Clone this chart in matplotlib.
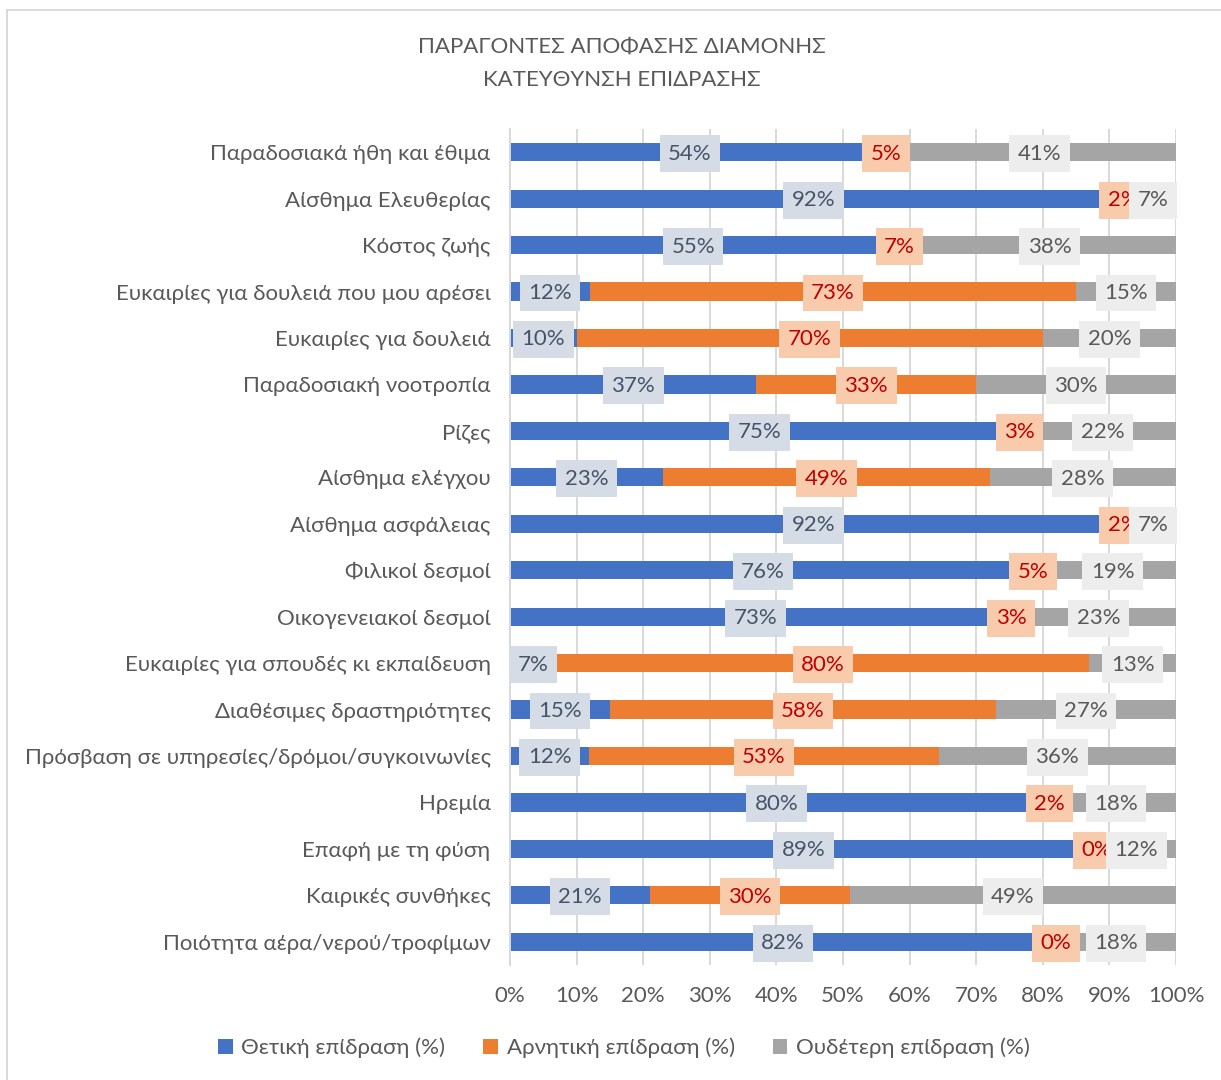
import matplotlib
matplotlib.use("Agg")
import matplotlib.pyplot as plt
from matplotlib.patches import Patch, Rectangle
import numpy as np

plt.rcParams['font.family'] = ['Lato', 'Noto Sans', 'DejaVu Sans']

categories = [
    "Παραδοσιακά ήθη και έθιμα",
    "Αίσθημα Ελευθερίας",
    "Κόστος ζωής",
    "Ευκαιρίες για δουλειά που μου αρέσει",
    "Ευκαιρίες για δουλειά",
    "Παραδοσιακή νοοτροπία",
    "Ρίζες",
    "Αίσθημα ελέγχου",
    "Αίσθημα ασφάλειας",
    "Φιλικοί δεσμοί",
    "Οικογενειακοί δεσμοί",
    "Ευκαιρίες για σπουδές κι εκπαίδευση",
    "Διαθέσιμες δραστηριότητες",
    "Πρόσβαση σε υπηρεσίες/δρόμοι/συγκοινωνίες",
    "Ηρεμία",
    "Επαφή με τη φύση",
    "Καιρικές συνθήκες",
    "Ποιότητα αέρα/νερού/τροφίμων",
]
positive = [54, 92, 55, 12, 10, 37, 75, 23, 92, 76, 73, 7, 15, 12, 80, 89, 21, 82]
negative = [5, 2, 7, 73, 70, 33, 3, 49, 2, 5, 3, 80, 58, 53, 2, 0, 30, 0]
neutral = [41, 7, 38, 15, 20, 30, 22, 28, 7, 19, 23, 13, 27, 36, 18, 12, 49, 18]
series_names = ["Θετική επίδραση (%)", "Αρνητική επίδραση (%)", "Ουδέτερη επίδραση (%)"]
tick_labels = [f"{v}%" for v in range(0, 101, 10)]

bar_colors = ["#4472C4", "#ED7D31", "#A5A5A5"]
box_colors = ["#D6DCE5", "#F8CBAD", "#EDEDED"]
label_colors = ["#44546A", "#C00000", "#595959"]
text_gray = "#595959"
grid_gray = "#D9D9D9"
fs = 16

fig = plt.figure(figsize=(12.21, 10.80), dpi=100)
fig.patches.append(Rectangle((7 / 1221, -0.1), 1.2, 1.1 - 10 / 1080,
                             transform=fig.transFigure, fill=False,
                             edgecolor=grid_gray, linewidth=1.4))

ax = fig.add_axes([510 / 1221, 1 - 965 / 1080, 666 / 1221, 836 / 1080])

data = np.array([positive, negative, neutral], dtype=float)
shares = data / data.sum(axis=0) * 100
y = np.arange(len(categories))
left = np.zeros(len(categories))
for k in range(3):
    ax.barh(y, shares[k], left=left, height=0.39, color=bar_colors[k], zorder=2)
    for i in range(len(categories)):
        ax.text(left[i] + shares[k][i] / 2, y[i] + 0.03, f"{int(data[k][i])}%",
                ha="center", va="center", fontsize=16, color=label_colors[k],
                zorder=5 + k,
                bbox=dict(boxstyle="square,pad=0.38", facecolor=box_colors[k],
                          edgecolor="none"))
    left += shares[k]

ax.set_xlim(0, 100)
ax.set_ylim(len(categories) - 0.5, -0.5)
ax.set_yticks(y)
ax.set_yticklabels(categories, fontsize=fs, color=text_gray)
ax.set_xticks(range(0, 101, 10))
ax.set_xticklabels(tick_labels, fontsize=fs, color=text_gray)
ax.tick_params(axis="y", length=0, pad=14)
ax.tick_params(axis="x", length=0, pad=15)
ax.grid(axis="x", color=grid_gray, linewidth=1.4, zorder=0)
ax.set_axisbelow(True)
for s in ["top", "right", "bottom"]:
    ax.spines[s].set_visible(False)
ax.spines["left"].set_color(grid_gray)
ax.spines["left"].set_linewidth(1.4)

fig.text(0.5095, 1 - 47 / 1080, "ΠΑΡΑΓΟΝΤΕΣ ΑΠΟΦΑΣΗΣ ΔΙΑΜΟΝΗΣ", ha="center",
         va="center", fontsize=fs, color=text_gray)
fig.text(0.5095, 1 - 80 / 1080, "ΚΑΤΕΥΘΥΝΣΗ ΕΠΙΔΡΑΣΗΣ", ha="center",
         va="center", fontsize=fs, color=text_gray)

handles = [Patch(facecolor=c, edgecolor="none") for c in bar_colors]
fig.legend(handles, series_names, loc="center", bbox_to_anchor=(0.511, 1 - 1048 / 1080),
           ncol=3, frameon=False, fontsize=fs, labelcolor=text_gray,
           handlelength=0.65, handleheight=0.65, handletextpad=0.4, columnspacing=1.7)

fig.savefig("out.png", dpi=100)
